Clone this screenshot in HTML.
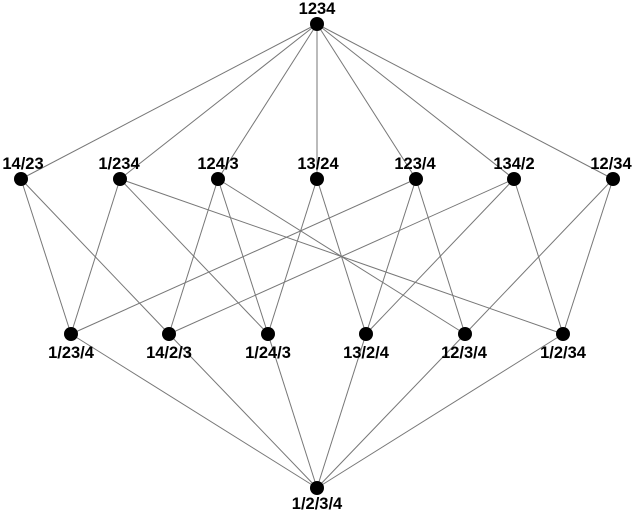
<!DOCTYPE html>
<html><head><meta charset="utf-8"><style>html,body{margin:0;padding:0;background:#fff;width:633px;height:512px;overflow:hidden}</style></head><body>
<svg width="633" height="512" xmlns="http://www.w3.org/2000/svg" font-family="Liberation Sans, sans-serif" font-weight="bold" font-size="16.5">
<g stroke="#777" stroke-width="1">
<line x1="317" y1="24" x2="21" y2="179"/><line x1="317" y1="24" x2="120" y2="179"/><line x1="317" y1="24" x2="218" y2="179"/><line x1="317" y1="24" x2="317" y2="179"/><line x1="317" y1="24" x2="416" y2="179"/><line x1="317" y1="24" x2="514" y2="179"/><line x1="317" y1="24" x2="613" y2="179"/>
<line x1="21" y1="179" x2="71" y2="334"/><line x1="21" y1="179" x2="169" y2="334"/>
<line x1="120" y1="179" x2="71" y2="334"/><line x1="120" y1="179" x2="268" y2="334"/><line x1="120" y1="179" x2="563" y2="334"/>
<line x1="218" y1="179" x2="169" y2="334"/><line x1="218" y1="179" x2="268" y2="334"/><line x1="218" y1="179" x2="465" y2="334"/>
<line x1="317" y1="179" x2="268" y2="334"/><line x1="317" y1="179" x2="366" y2="334"/>
<line x1="416" y1="179" x2="71" y2="334"/><line x1="416" y1="179" x2="366" y2="334"/><line x1="416" y1="179" x2="465" y2="334"/>
<line x1="514" y1="179" x2="169" y2="334"/><line x1="514" y1="179" x2="366" y2="334"/><line x1="514" y1="179" x2="563" y2="334"/>
<line x1="613" y1="179" x2="465" y2="334"/><line x1="613" y1="179" x2="563" y2="334"/>
<line x1="71" y1="334" x2="317" y2="488"/><line x1="169" y1="334" x2="317" y2="488"/><line x1="268" y1="334" x2="317" y2="488"/><line x1="366" y1="334" x2="317" y2="488"/><line x1="465" y1="334" x2="317" y2="488"/><line x1="563" y1="334" x2="317" y2="488"/>
</g>
<g fill="#000">
<circle cx="317" cy="24" r="7"/>
<circle cx="21" cy="179" r="7"/><circle cx="120" cy="179" r="7"/><circle cx="218" cy="179" r="7"/><circle cx="317" cy="179" r="7"/><circle cx="416" cy="179" r="7"/><circle cx="514" cy="179" r="7"/><circle cx="613" cy="179" r="7"/>
<circle cx="71" cy="334" r="7"/><circle cx="169" cy="334" r="7"/><circle cx="268" cy="334" r="7"/><circle cx="366" cy="334" r="7"/><circle cx="465" cy="334" r="7"/><circle cx="563" cy="334" r="7"/>
<circle cx="317" cy="488" r="7"/>
</g>
<g fill="#000" text-anchor="middle">
<text x="317" y="14">1234</text>
<text x="23" y="169">14/23</text><text x="119" y="169">1/234</text><text x="218" y="169">124/3</text><text x="318" y="169">13/24</text><text x="415" y="169">123/4</text><text x="514" y="169">134/2</text><text x="611" y="169">12/34</text>
<text x="71" y="358">1/23/4</text><text x="169" y="358">14/2/3</text><text x="268" y="358">1/24/3</text><text x="366" y="358">13/2/4</text><text x="464" y="358">12/3/4</text><text x="563" y="358">1/2/34</text>
<text x="317" y="509">1/2/3/4</text>
</g>
</svg>
</body></html>
